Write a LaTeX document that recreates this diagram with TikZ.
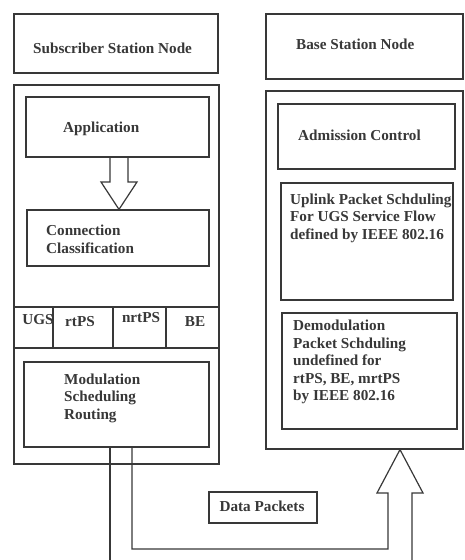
\documentclass[tikz,border=0pt]{standalone}
\usepackage{fontspec}
\setmainfont{Liberation Serif}
\usetikzlibrary{fit,calc}
\definecolor{ink}{HTML}{383838}
\begin{document}
\begin{tikzpicture}[x=1pt,y=-1pt,
  box/.style={draw=ink,line width=1.2pt,rectangle,inner sep=0pt},
  lbl/.style={font=\fontsize{15.2}{17.5}\selectfont\bfseries,inner sep=0pt,align=left,text=ink},
  wire/.style={draw=ink,line width=1.2pt,line join=miter}]
\useasboundingbox[fill=white] (0,0) rectangle (465,560);

% ---- subscriber station side ----
\node[box,fit={(14,14)(218,73)}] (ssn) {};
\node[lbl,anchor=west] (ssnT) at (33,48) {Subscriber Station Node};
\node[box,fit={(14,85)(219,464)}] (ss) {};
\node[box,fit={(26,97)(209,157)}] (app) {};
\node[lbl,anchor=west] (appT) at (63,129) {Application};
\node[box,fit={(27,210)(209,266)}] (conn) {};
\node[lbl,anchor=west] (connT) at (46,239.5) {Connection\\Classification};

% service-flow classes
\node[box,fit={(14,307)(53,348)}] (ugs) {};
\node[box,fit={(53,307)(113,348)}] (rtps) {};
\node[box,fit={(113,307)(166,348)}] (nrtps) {};
\node[box,fit={(166,307)(219,348)}] (be) {};
\node[lbl] (ugsT) at (38,320) {UGS};
\node[lbl] (rtpsT) at (80,322) {rtPS};
\node[lbl] (nrtpsT) at (141,318) {nrtPS};
\node[lbl] (beT) at (195,322) {BE};

\node[box,fit={(24,362)(209,447)}] (mod) {};
\node[lbl,anchor=west] (modT) at (64,398) {Modulation\\Scheduling\\Routing};

% ---- base station side ----
\node[box,fit={(266,14)(463,79)}] (bsn) {};
\node[lbl,anchor=west] (bsnT) at (296,44) {Base Station Node};
\node[box,fit={(266,91)(463,449)}] (bs) {};
\node[box,fit={(278,104)(455,169)}] (adm) {};
\node[lbl,anchor=west] (admT) at (298,135) {Admission Control};
\node[box,fit={(281,183)(453,300)}] (up) {};
\node[lbl,anchor=west] (upT) at (290,218) {Uplink Packet Schduling\\For UGS Service Flow\\defined by IEEE 802.16};
\node[box,fit={(282,313)(457,429)}] (dem) {};
\node[lbl,anchor=west] (demT) at (293,362) {Demodulation\\Packet Schduling\\undefined for\\rtPS, BE, mrtPS\\by IEEE 802.16};

\node[box,fit={(209,492)(317,523)}] (dp) {};
\node[lbl] (dpT) at (262,506) {Data Packets};

% ---- hollow arrow: application -> classification ----
\coordinate (aL) at (110,182);
\coordinate (aR) at (128,182);
\coordinate (aTip) at (119,0);
\draw[wire] (app.south -| aL) -- (aL) -- ++(-9,0) -- (conn.north -| aTip)
  -- ($(aR)+(9,0)$) -- (aR) -- (app.south -| aR);

% ---- data path from subscriber to base station ----
\coordinate (endA) at (110,560);
\draw[wire] (mod.south -| endA) -- (endA);

\coordinate (pA) at (132,549);
\coordinate (pB) at (388,549);
\coordinate (hL) at (388,493);
\coordinate (hR) at (412,493);
\coordinate (bTip) at (400,0);
\coordinate (endB) at (412,560);
\draw[wire] (mod.south -| pA) -- (pA) -- (pB) -- (hL) -- ++(-11,0)
  -- (bs.south -| bTip) -- ($(hR)+(11,0)$) -- (hR) -- (endB);
\end{tikzpicture}
\end{document}
